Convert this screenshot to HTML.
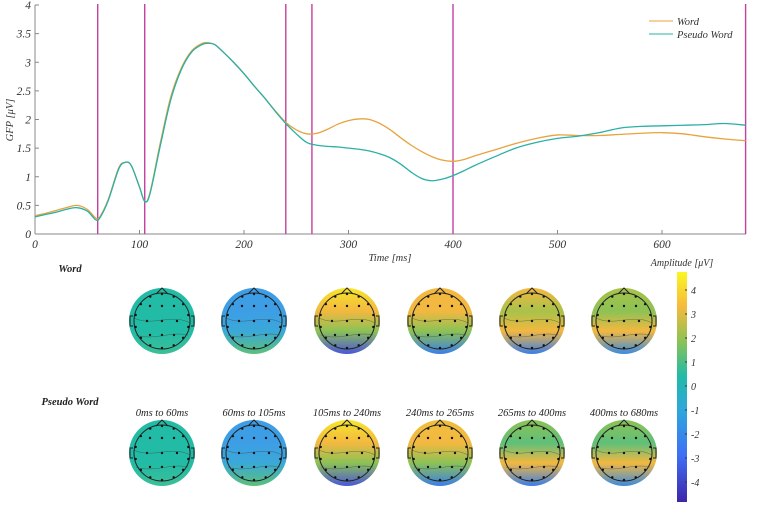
<!DOCTYPE html>
<html><head><meta charset="utf-8">
<style>
body{margin:0;background:#fff;}
svg{display:block;font-family:"Liberation Serif",serif;font-style:italic;}
</style></head><body>
<svg id="chart" width="758" height="513" viewBox="0 0 758 513">
<defs>
<linearGradient id="cbar" x1="0" y1="1" x2="0" y2="0">
<stop offset="0" stop-color="#3e26a8"/><stop offset="0.2" stop-color="#3e6ef5"/><stop offset="0.4" stop-color="#2ea7dc"/><stop offset="0.55" stop-color="#22bba6"/><stop offset="0.7" stop-color="#8cc255"/><stop offset="0.85" stop-color="#f6ba3c"/><stop offset="1" stop-color="#f9f721"/>
</linearGradient>
</defs>
<g id="plot"></g>
<g id="topos"></g>
</svg>
<script>
const times=[0,10,20,30,40,50,58,62,70,80,86,92,100,105,110,120,130,140,150,160,166,172,180,190,200,210,220,230,240,250,260,270,280,290,300,310,320,330,340,350,360,370,380,390,400,410,420,440,460,480,500,520,540,560,580,600,620,640,660,680];
const wordVals=[0.32,0.36,0.41,0.46,0.50,0.43,0.28,0.3,0.6,1.15,1.25,1.2,0.82,0.57,0.72,1.6,2.4,2.9,3.2,3.33,3.34,3.31,3.18,3.0,2.8,2.58,2.37,2.15,1.95,1.82,1.75,1.76,1.83,1.92,1.98,2.01,2.0,1.93,1.82,1.68,1.55,1.44,1.35,1.29,1.27,1.3,1.36,1.47,1.58,1.67,1.73,1.72,1.72,1.74,1.76,1.77,1.75,1.7,1.66,1.63];
const pseudoVals=[0.3,0.34,0.38,0.43,0.46,0.4,0.25,0.28,0.58,1.13,1.25,1.2,0.82,0.57,0.7,1.55,2.35,2.87,3.18,3.31,3.33,3.31,3.18,3.0,2.8,2.58,2.37,2.14,1.93,1.75,1.6,1.55,1.53,1.52,1.5,1.48,1.45,1.4,1.33,1.22,1.08,0.97,0.93,0.96,1.02,1.1,1.19,1.35,1.5,1.6,1.67,1.71,1.77,1.85,1.88,1.89,1.9,1.91,1.93,1.9];
const xTicks=[0,100,200,300,400,500,600];
const yTicks=[0,0.5,1,1.5,2,2.5,3,3.5,4];
const boundaries=[60,105,240,265,400,680];
const windowLabels=["0ms to 60ms","60ms to 105ms","105ms to 240ms","240ms to 265ms","265ms to 400ms","400ms to 680ms"];
const cbTicks=[4,3,2,1,0,-1,-2,-3,-4];
const NS="http://www.w3.org/2000/svg";
const X=t=>35+t*1.045, Y=v=>234-v*57.25;
const plot=document.getElementById('plot');
function mk(tag,attrs,parent,text){const e=document.createElementNS(NS,tag);for(const k in attrs)e.setAttribute(k,attrs[k]);if(text!==undefined)e.textContent=text;(parent||plot).appendChild(e);return e;}
let e;
e=mk('line',{x1:35,y1:234,x2:746,y2:234,stroke:'#888','stroke-width':1});


e=mk('line',{x1:35,y1:5,x2:35,y2:234,stroke:'#888','stroke-width':1});


xTicks.forEach(t=>{mk('line',{x1:X(t),y1:234,x2:X(t),y2:230,stroke:'#888'});
e=mk('text',{x:X(t),y:248,'font-size':11.5,'text-anchor':'middle',fill:'#333'},plot,String(t));

});
yTicks.forEach(v=>{mk('line',{x1:35,y1:Y(v),x2:39,y2:Y(v),stroke:'#888'});
e=mk('text',{x:31,y:Y(v)+4,'font-size':11.5,'text-anchor':'end',fill:'#333'},plot,String(v));

});
e=mk('text',{x:390,y:261,'font-size':10.5,'text-anchor':'middle',fill:'#333'},plot,'Time [ms]');


e=mk('text',{x:0,y:0,'font-size':10.5,'text-anchor':'middle',fill:'#333',transform:'translate(13,120) rotate(-90)'},plot,'GFP [μV]');


boundaries.forEach(b=>{e=mk('line',{x1:X(b),y1:4,x2:X(b),y2:234,stroke:'#c2409e','stroke-width':1.4});

});
function smooth(vals){const p=times.map((t,i)=>[X(t),Y(vals[i])]);let d='M'+p[0][0]+','+p[0][1];
for(let i=0;i<p.length-1;i++){const p0=p[i-1]||p[i],p1=p[i],p2=p[i+1],p3=p[i+2]||p2;
d+=' C'+(p1[0]+(p2[0]-p0[0])/6)+','+(p1[1]+(p2[1]-p0[1])/6)+' '+(p2[0]-(p3[0]-p1[0])/6)+','+(p2[1]-(p3[1]-p1[1])/6)+' '+p2[0]+','+p2[1];}return d;}
e=mk('path',{d:smooth(wordVals),fill:'none',stroke:'#e8a33d','stroke-width':1.3});


e=mk('path',{d:smooth(pseudoVals),fill:'none',stroke:'#2ab0a6','stroke-width':1.3});


mk('line',{x1:649,y1:21,x2:673,y2:21,stroke:'#e8a33d'});
e=mk('text',{x:677,y:25,'font-size':10.5,fill:'#333'},plot,'Word');


mk('line',{x1:649,y1:34,x2:673,y2:34,stroke:'#2ab0a6'});
e=mk('text',{x:677,y:38,'font-size':10.5,fill:'#333'},plot,'Pseudo Word');


const topos=document.getElementById('topos');
const T='#22bba6',B='#3d9ee6',Y1='#f6e62a',O='#f3b840',G='#8cc255',G2='#5cc07a',DB='#4a56d8';
const mapsWord=[[T,T,T,'#3bbf98'],[B,B,'#3aa8d8',G2],[Y1,O,G,DB],[O,O,G,'#3a7de8'],[O,'#a8c24a',O,'#3a7de8'],['#a8c24a',G,O,'#3a8ae0']];
const mapsPseudo=[[T,T,T,'#3bbf98'],[B,B,'#3aa8d8',G2],[Y1,O,G,DB],['#f0bf3e',O,G,'#3a7de8'],[G,'#5fc07a',O,'#3a7de8'],[G,'#5fc07a',O,'#3a8ae0']];
const cx=[162,254,347,440,532,624];
function topo(x,y,cols,name,idx){const g=mk('g',{},topos);


const id='g'+name+idx;const defs=mk('defs',{},g);const lg=mk('linearGradient',{id:id,x1:0,y1:0,x2:0,y2:1},defs);
[0,0.35,0.65,1].forEach((o,i)=>mk('stop',{offset:o,'stop-color':cols[i]},lg));
mk('circle',{cx:x,cy:y,r:33,fill:'url(#'+id+')'},g);
mk('circle',{cx:x,cy:y,r:28,fill:'none',stroke:'#222','stroke-width':1},g);
mk('path',{d:`M${x-6},${y-27} L${x},${y-33} L${x+6},${y-27}`,fill:'none',stroke:'#222','stroke-width':1},g);
mk('path',{d:`M${x-29},${y-5} h-3 v10 h3 M${x+29},${y-5} h3 v10 h-3`,fill:'none',stroke:'#222','stroke-width':1},g);
[[-12,-15],[0,-15],[12,-15],[-15,0],[0,0],[15,0],[-12,14],[0,14],[12,14]].forEach(p=>mk('circle',{cx:x+p[0],cy:y+p[1],r:1.2,fill:'#111'},g));
for(let a=0;a<14;a++){const an=a/14*Math.PI*2;mk('circle',{cx:x+27*Math.sin(an),cy:y-27*Math.cos(an),r:1.2,fill:'#111'},g);}
mk('path',{d:`M${x-28},${y-3} C${x-10},${y+6} ${x+10},${y-8} ${x+28},${y+2} M${x-26},${y+14} C${x-8},${y+20} ${x+8},${y+10} ${x+26},${y+14}`,fill:'none',stroke:'#333','stroke-width':0.5,opacity:0.6},g);}
mapsWord.forEach((c,i)=>topo(cx[i],321,c,'topomap-word',i));
mapsPseudo.forEach((c,i)=>topo(cx[i],453,c,'topomap-pseudo',i));
windowLabels.forEach((l,i)=>{e=mk('text',{x:cx[i],y:416,'font-size':10.5,'text-anchor':'middle',fill:'#222'},topos,l);

});
e=mk('text',{x:70,y:272,'font-size':10.5,'font-weight':'bold','text-anchor':'middle',fill:'#222'},topos,'Word');


e=mk('text',{x:70,y:405,'font-size':10.5,'font-weight':'bold','text-anchor':'middle',fill:'#222'},topos,'Pseudo Word');


e=mk('rect',{x:677,y:272,width:10,height:230,fill:'url(#cbar)'},topos);


cbTicks.forEach(v=>{const yy=386-v*24;mk('line',{x1:685,y1:yy,x2:687,y2:yy,stroke:'#333'},topos);
e=mk('text',{x:691,y:yy+4,'font-size':10,fill:'#333'},topos,String(v));

});
e=mk('text',{x:682,y:266,'font-size':10,'text-anchor':'middle',fill:'#333'},topos,'Amplitude [μV]');


</script>
</body></html>
